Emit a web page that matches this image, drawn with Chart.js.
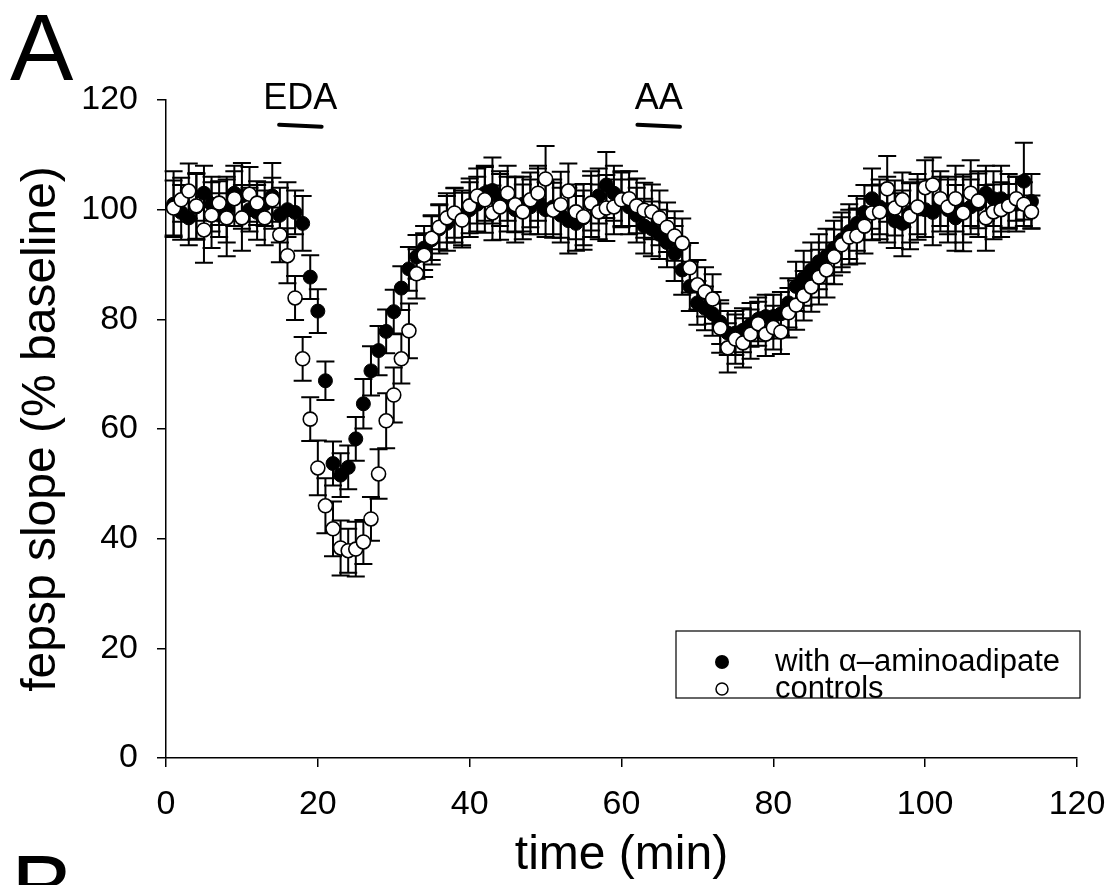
<!DOCTYPE html>
<html>
<head>
<meta charset="utf-8">
<title>fepsp slope</title>
<script src="https://cdn.jsdelivr.net/npm/chart.js@4.4.0/dist/chart.umd.min.js"></script>
<style>
  html, body { margin: 0; padding: 0; background: #fff; }
  #chart { display: block; }
</style>
</head>
<body>
<canvas id="chart" width="1115" height="885"></canvas>
<script>
// time points (min)
const times = [];
for (let t = 1; t <= 114; t++) times.push(t);

// with alpha-aminoadipate (filled circles), % baseline
const aminoValues = [
  101, 99.5, 98.5, 100.5, 103, 101, 99, 100, 103, 102.5,
  100, 99.5, 101, 102.5, 99, 100, 99.5, 97.5, 87.7, 81.5,
  68.8, 53.7, 51.6, 53, 58.2, 64.6, 70.6, 74.3, 77.8, 81.4,
  85.7, 89.2, 91.4, 93, 94.5, 96.5, 97.5, 99, 98.5, 100,
  101, 103, 103.5, 102, 101, 100, 101, 100.5, 101.5, 100,
  100.5, 99, 98, 97.5, 98.5, 101, 102.5, 104.5, 103, 102,
  100.5, 99, 97, 96.5, 95.5, 94, 92, 89, 86, 83,
  82, 81, 79.5, 77.5, 77.5, 78, 79, 80, 80.5, 80.5,
  81, 83, 86, 87.5, 89, 90.5, 91.5, 93, 94.5, 96,
  97.5, 99.5, 102, 100.5, 100, 98, 97.5, 99.5, 100.5, 100,
  99.5, 101, 100, 98.5, 100, 100.5, 101, 103, 102, 102,
  101.5, 101, 105.2, 101.5
];
const aminoErrors = [
  6, 5, 5, 6, 5, 5, 4, 6, 5, 6,
  4, 5, 4, 6, 5, 5, 4, 5, 4, 4,
  3.5, 4, 4, 4, 4, 4.5, 4.5, 4.5, 4, 4,
  4, 4, 4, 4, 4.5, 4.5, 5, 5, 5, 5,
  5, 5, 6, 5, 5, 6, 5, 5, 6, 5,
  5, 5, 6, 5, 5, 6, 5, 6, 5, 5,
  5, 5, 5, 5, 4.5, 4.5, 5, 4.5, 4.5, 4,
  4, 4, 4, 4, 4, 4, 4, 4, 4, 4,
  4, 4.5, 4.5, 5, 5, 5, 5, 5, 5, 5,
  5, 5, 5.5, 5, 6, 5, 6, 5.5, 6, 5,
  6, 5, 6, 6, 6, 5, 6, 5, 5, 6,
  5, 5, 7, 5
];

// controls (open circles), % baseline
const controlValues = [
  100.3, 101.8, 103.4, 100.7, 96.3, 99, 101.2, 98.5, 102, 98.5,
  102.8, 101.2, 98.5, 101.8, 95.4, 91.6, 83.9, 72.8, 61.8, 52.9,
  46, 41.8, 38.3, 37.8, 38.1, 39.4, 43.6, 51.8, 61.5, 66.2,
  72.8, 77.9, 88.3, 91.7, 94.8, 96.8, 98.5, 99.4, 98.1, 100.7,
  102.5, 101.8, 99.4, 100.5, 103, 100.9, 99.6, 101.8, 103, 105.6,
  99.9, 100.9, 103.4, 99.6, 98.7, 101.2, 99.6, 100.3, 100.5, 101.8,
  102, 100.7, 99.9, 99.6, 98.5, 96.8, 95.2, 93.9, 89.4, 86.3,
  85, 83.7, 78.4, 74.8, 76.4, 75.7, 77.3, 79.2, 77.3, 78.5,
  77.7, 81.2, 82.6, 84.3, 85.9, 87.7, 89, 91.4, 93.6, 95,
  95.2, 97, 99.4, 99.6, 103.8, 100.3, 101.8, 98.8, 100.5, 104,
  104.5, 102, 100.5, 102, 99.4, 103, 101.6, 98.5, 99.6, 100,
  100.7, 102, 101, 99.6
];
const controlErrors = [
  5, 4, 5, 6, 6, 6, 4, 7, 5, 6,
  5, 4, 5, 4, 5, 5, 4, 4, 4, 5,
  5, 5, 5, 4, 5, 4, 4, 4.5, 5, 5,
  4.5, 5, 4.5, 4, 4, 4, 4.5, 4.5, 5, 5,
  5, 6, 5, 6, 5, 5, 5, 5, 5, 6,
  5, 6, 5, 5, 6, 5, 5, 6, 5, 5,
  5, 5, 5, 5, 5, 4.5, 4.5, 4.5, 4.5, 4.5,
  4.5, 4.5, 4.5, 4.5, 4.5, 4.5, 4.5, 4, 4, 4,
  4, 4.5, 4.5, 4.5, 4.5, 5, 5, 5, 5, 5,
  5, 5, 5, 5, 6, 5, 5, 6, 5, 5,
  5, 5, 5, 6, 7, 6, 5, 6, 5, 5,
  4, 4, 4, 3
];

// drug application bars
const drugLabels = ['EDA', 'AA'];
const drugStart = [14.9, 62.1];
const drugEnd = [20.5, 67.7];

const xTicks = [0, 20, 40, 60, 80, 100, 120];
const yTicks = [0, 20, 40, 60, 80, 100, 120];

const seriesNames = ['with \u03b1\u2013aminoadipate', 'controls'];

const FONT = '"Liberation Sans", Arial, Helvetica, sans-serif';

function toPoints(vals) {
  return vals.map((v, i) => ({ x: times[i], y: v }));
}

// error bars drawn under each dataset's own markers
const errorBars = {
  id: 'errorBars',
  beforeDatasetDraw(chart, args) {
    const ds = chart.data.datasets[args.index];
    if (!ds.errors) return;
    const { ctx, scales: { x, y } } = chart;
    const cap = 9;
    ctx.save();
    ctx.strokeStyle = '#000';
    ctx.lineWidth = 2;
    ds.data.forEach((p, i) => {
      const px = x.getPixelForValue(p.x);
      const top = y.getPixelForValue(p.y + ds.errors[i]);
      const bot = y.getPixelForValue(p.y - ds.errors[i]);
      ctx.beginPath();
      ctx.moveTo(px, top);
      ctx.lineTo(px, bot);
      ctx.moveTo(px - cap, top);
      ctx.lineTo(px + cap, top);
      ctx.moveTo(px - cap, bot);
      ctx.lineTo(px + cap, bot);
      ctx.stroke();
    });
    ctx.restore();
  }
};

// panel letters, drug bars and the boxed legend
const extras = {
  id: 'extras',
  afterDraw(chart) {
    const { ctx, scales: { x, y }, chartArea } = chart;
    ctx.save();
    ctx.fillStyle = '#000';
    ctx.strokeStyle = '#000';

    // panel letters
    ctx.font = '95px ' + FONT;
    ctx.textAlign = 'left';
    ctx.textBaseline = 'alphabetic';
    ctx.fillText('A', 10, 80);
    ctx.fillText('B', 11, 921);

    // drug bars
    ctx.font = '36px ' + FONT;
    ctx.textAlign = 'center';
    ctx.textBaseline = 'middle';
    drugLabels.forEach((lab, i) => {
      const x0 = x.getPixelForValue(drugStart[i]);
      const x1 = x.getPixelForValue(drugEnd[i]);
      ctx.fillText(lab, (x0 + x1) / 2, y.getPixelForValue(120.2));
      const by = y.getPixelForValue(115.3);
      ctx.lineWidth = 4;
      ctx.lineCap = 'round';
      ctx.beginPath();
      ctx.moveTo(x0, by - 1);
      ctx.lineTo(x1, by + 1);
      ctx.stroke();
    });

    // legend box
    const bx = chartArea.right - 401, byTop = chartArea.bottom - 127;
    const bw = 404, bh = 67;
    ctx.lineWidth = 1.2;
    ctx.lineCap = 'butt';
    ctx.strokeRect(bx, byTop, bw, bh);
    ctx.font = '31px ' + FONT;
    ctx.textAlign = 'left';
    ctx.textBaseline = 'middle';
    const rows = [byTop + 31, byTop + 58];
    // filled marker
    ctx.beginPath();
    ctx.arc(bx + 46, rows[0], 7, 0, Math.PI * 2);
    ctx.fill();
    ctx.fillText(seriesNames[0], bx + 99, rows[0]);
    // open marker
    ctx.beginPath();
    ctx.lineWidth = 1.5;
    ctx.arc(bx + 46, rows[1], 6, 0, Math.PI * 2);
    ctx.fillStyle = '#fff';
    ctx.fill();
    ctx.stroke();
    ctx.fillStyle = '#000';
    ctx.fillText(seriesNames[1], bx + 99, rows[1]);
    ctx.restore();
  }
};

new Chart(document.getElementById('chart'), {
  type: 'scatter',
  data: {
    datasets: [
      {
        label: seriesNames[0],
        data: toPoints(aminoValues),
        errors: aminoErrors,
        pointRadius: 7,
        pointBackgroundColor: '#000',
        pointBorderColor: '#000',
        pointBorderWidth: 1,
        showLine: false,
        order: 2
      },
      {
        label: seriesNames[1],
        data: toPoints(controlValues),
        errors: controlErrors,
        pointRadius: 7,
        pointBackgroundColor: '#fff',
        pointBorderColor: '#000',
        pointBorderWidth: 1.6,
        showLine: false,
        order: 1
      }
    ]
  },
  options: {
    responsive: false,
    animation: false,
    devicePixelRatio: 1,
    events: [],
    layout: { padding: { top: 100, right: 38, left: 0, bottom: 0 } },
    plugins: {
      legend: { display: false },
      tooltip: { enabled: false }
    },
    scales: {
      x: {
        type: 'linear',
        min: 0,
        max: 120,
        afterFit(scale) {
          scale.height = 127;
          scale.paddingLeft = 0;
          scale.paddingRight = 0;
        },
        afterBuildTicks(scale) { scale.ticks = xTicks.map(v => ({ value: v })); },
        ticks: { color: '#000', font: { family: FONT, size: 34 }, padding: 17, maxRotation: 0 },
        grid: { display: true, drawOnChartArea: false, drawTicks: true, tickLength: 9, color: '#000', lineWidth: 1.5 },
        border: { display: true, color: '#000', width: 1.5 },
        title: { display: true, text: 'time (min)', color: '#000', font: { family: FONT, size: 48 }, padding: { top: 0, bottom: 0 } }
      },
      y: {
        type: 'linear',
        min: 0,
        max: 120,
        afterFit(scale) {
          scale.width = 166;
          scale.paddingTop = 0;
          scale.paddingBottom = 0;
        },
        afterBuildTicks(scale) { scale.ticks = yTicks.map(v => ({ value: v })); },
        ticks: { color: '#000', font: { family: FONT, size: 34 }, padding: 19 },
        grid: { display: true, drawOnChartArea: false, drawTicks: true, tickLength: 9, color: '#000', lineWidth: 1.5 },
        border: { display: true, color: '#000', width: 1.5 },
        title: { display: true, text: 'fepsp slope (% baseline)', color: '#000', font: { family: FONT, size: 48 }, padding: { top: 13, bottom: 0 } }
      }
    }
  },
  plugins: [errorBars, extras]
});
</script>
</body>
</html>
